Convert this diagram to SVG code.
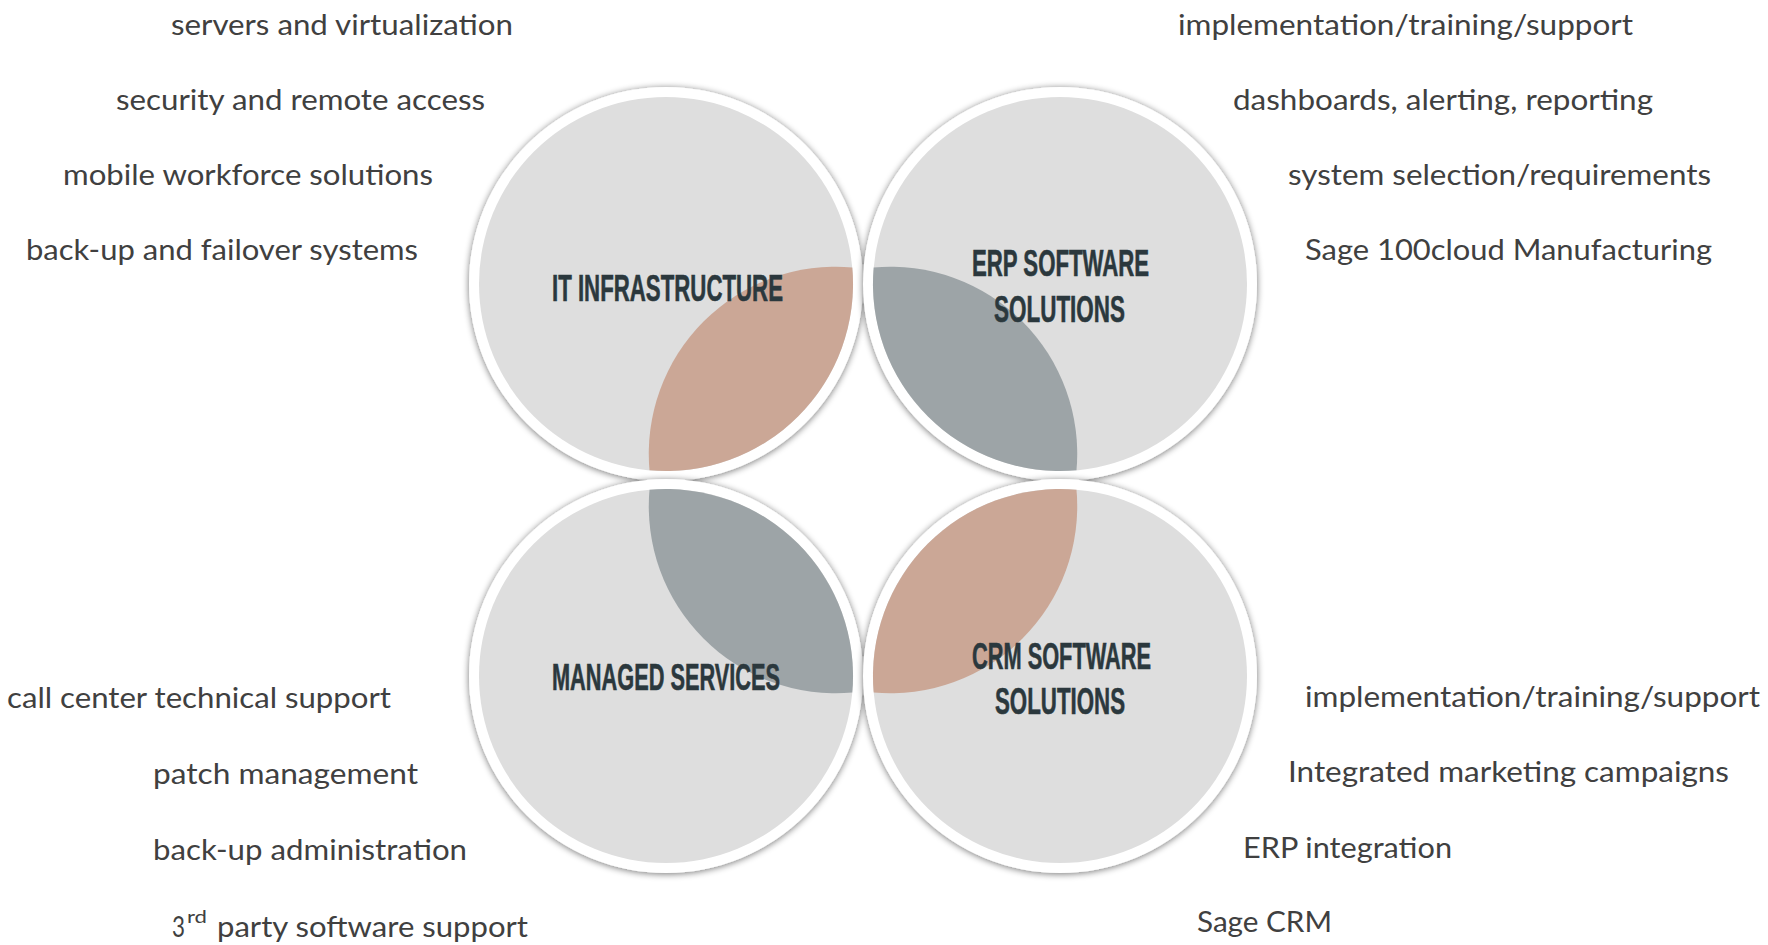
<svg xmlns="http://www.w3.org/2000/svg" width="1768" height="945" viewBox="0 0 1768 945">
<defs>
<style>
.lbl { font-family: Lato, "Open Sans", "Liberation Sans", sans-serif; font-size: 28px; fill: #404040; }
.sup { font-family: Lato, "Open Sans", "Liberation Sans", sans-serif; font-size: 18px; fill: #404040; }
.ttl { font-family: "Liberation Sans", Arial, sans-serif; font-weight: bold; font-size: 37px; fill: #2b383d; stroke: #2b383d; stroke-width: 0.6px; }
.ring { fill: #ffffff; filter: url(#sh); }
.disc { fill: #dedede; }
.warm { fill: #cba796; }
.cool { fill: #9da4a7; }
</style>
<filter id="sh" x="-10%" y="-10%" width="120%" height="120%">
<feGaussianBlur in="SourceAlpha" stdDeviation="3.5"/>
<feOffset dx="0" dy="1" result="b"/>
<feComponentTransfer><feFuncA type="linear" slope="0.55"/></feComponentTransfer>
<feMerge><feMergeNode/><feMergeNode in="SourceGraphic"/></feMerge>
</filter>
</defs>
<rect x="0" y="0" width="1768" height="945" fill="#ffffff"/>

<g id="connectors"></g>

<g id="node-it">
<circle class="ring" cx="666" cy="284" r="197"/>
<circle class="disc" cx="666" cy="284" r="187"/>
<path class="warm" d="M852.3,267.5 A187,187 0 0 0 649.5,470.3 A187,187 0 0 0 852.3,267.5 Z"/>
<text class="ttl" x="552" y="301" textLength="231" lengthAdjust="spacingAndGlyphs">IT INFRASTRUCTURE</text>
</g>

<g id="node-erp">
<circle class="ring" cx="1060" cy="284" r="197"/>
<circle class="disc" cx="1060" cy="284" r="187"/>
<path class="cool" d="M873.7,267.5 A187,187 0 0 1 1076.5,470.3 A187,187 0 0 1 873.7,267.5 Z"/>
<text class="ttl" x="972" y="276" textLength="177" lengthAdjust="spacingAndGlyphs">ERP SOFTWARE</text>
<text class="ttl" x="994" y="322" textLength="131" lengthAdjust="spacingAndGlyphs">SOLUTIONS</text>
</g>

<g id="node-managed">
<circle class="ring" cx="666" cy="676" r="197"/>
<circle class="disc" cx="666" cy="676" r="187"/>
<path class="cool" d="M649.5,489.8 A187,187 0 0 0 852.3,692.6 A187,187 0 0 0 649.5,489.8 Z"/>
<text class="ttl" x="552" y="690" textLength="228" lengthAdjust="spacingAndGlyphs">MANAGED SERVICES</text>
</g>

<g id="node-crm">
<circle class="ring" cx="1060" cy="676" r="197"/>
<circle class="disc" cx="1060" cy="676" r="187"/>
<path class="warm" d="M1076.5,489.8 A187,187 0 0 1 873.7,692.6 A187,187 0 0 1 1076.5,489.8 Z"/>
<text class="ttl" x="972" y="669" textLength="179" lengthAdjust="spacingAndGlyphs">CRM SOFTWARE</text>
<text class="ttl" x="995" y="714" textLength="130" lengthAdjust="spacingAndGlyphs">SOLUTIONS</text>
</g>

<g id="labels-it">
<text class="lbl" x="171" y="35" textLength="342" lengthAdjust="spacingAndGlyphs">servers and virtualization</text>
<text class="lbl" x="116" y="110" textLength="369" lengthAdjust="spacingAndGlyphs">security and remote access</text>
<text class="lbl" x="63" y="185" textLength="370" lengthAdjust="spacingAndGlyphs">mobile workforce solutions</text>
<text class="lbl" x="26" y="260" textLength="392" lengthAdjust="spacingAndGlyphs">back-up and failover systems</text>
</g>

<g id="labels-erp">
<text class="lbl" x="1178" y="35" textLength="455" lengthAdjust="spacingAndGlyphs">implementation/training/support</text>
<text class="lbl" x="1233" y="110" textLength="420" lengthAdjust="spacingAndGlyphs">dashboards, alerting, reporting</text>
<text class="lbl" x="1288" y="185" textLength="423" lengthAdjust="spacingAndGlyphs">system selection/requirements</text>
<text class="lbl" x="1305" y="260" textLength="407" lengthAdjust="spacingAndGlyphs">Sage 100cloud Manufacturing</text>
</g>

<g id="labels-managed">
<text class="lbl" x="7" y="708" textLength="384" lengthAdjust="spacingAndGlyphs">call center technical support</text>
<text class="lbl" x="153" y="784" textLength="265" lengthAdjust="spacingAndGlyphs">patch management</text>
<text class="lbl" x="153" y="860" textLength="314" lengthAdjust="spacingAndGlyphs">back-up administration</text>
<text class="lbl" x="172" y="937"><tspan textLength="13" lengthAdjust="spacingAndGlyphs">3</tspan><tspan class="sup" x="187" y="923" textLength="20" lengthAdjust="spacingAndGlyphs">rd</tspan><tspan x="217" y="937" textLength="311" lengthAdjust="spacingAndGlyphs">party software support</tspan></text>
</g>

<g id="labels-crm">
<text class="lbl" x="1305" y="707" textLength="455" lengthAdjust="spacingAndGlyphs">implementation/training/support</text>
<text class="lbl" x="1288" y="782" textLength="441" lengthAdjust="spacingAndGlyphs">Integrated marketing campaigns</text>
<text class="lbl" x="1243" y="858" textLength="209" lengthAdjust="spacingAndGlyphs">ERP integration</text>
<text class="lbl" x="1197" y="932" textLength="135" lengthAdjust="spacingAndGlyphs">Sage CRM</text>
</g>
</svg>
